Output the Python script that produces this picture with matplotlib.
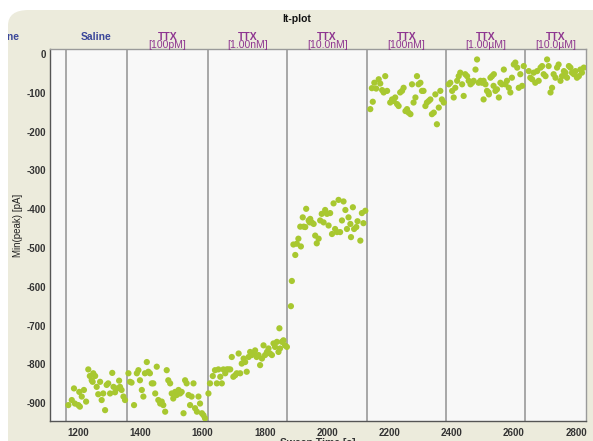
import matplotlib
matplotlib.use("Agg")
import matplotlib.pyplot as plt
from matplotlib.patches import FancyBboxPatch
from matplotlib.transforms import Bbox, TransformedBbox

plt.rcParams['font.family'] = ['Liberation Sans', 'DejaVu Sans']

# ---------------- data ----------------
saline_t = [1169, 1180, 1187, 1190, 1201, 1206, 1204, 1212, 1219, 1226, 1233, 1238, 1244, 1249,
            1255, 1247, 1260, 1265, 1271, 1276, 1281, 1287, 1292, 1297, 1303, 1310, 1314, 1319,
            1326, 1332, 1335, 1340, 1346, 1351]
saline_v = [-905, -892, -862, -901, -905, -909, -871, -883, -866, -896, -813, -830, -841, -823,
            -830, -845, -858, -877, -845, -892, -875, -918, -853, -849, -875, -822, -858, -872,
            -862, -842, -858, -866, -883, -892]

ttx100p_t = [1362, 1367, 1372, 1380, 1389, 1394, 1399, 1405, 1410, 1415, 1421, 1426, 1431, 1437,
             1442, 1448, 1453, 1458, 1464, 1469, 1474, 1480, 1485, 1490, 1496, 1501, 1506, 1512,
             1517, 1523, 1528, 1533, 1539, 1544, 1549, 1555, 1560, 1565, 1571, 1576, 1582, 1587,
             1592, 1598, 1603, 1608]
ttx100p_v = [-823, -845, -847, -905, -823, -815, -841, -866, -883, -823, -794, -819, -823, -849,
             -849, -875, -806, -892, -901, -896, -905, -922, -815, -841, -849, -875, -888, -871,
             -879, -866, -875, -871, -926, -841, -849, -879, -905, -883, -849, -913, -922, -883,
             -901, -926, -931, -939]

ttx1n_t = [1619, 1624, 1633, 1640, 1646, 1651, 1657, 1662, 1667, 1673, 1678, 1683, 1689, 1694,
           1699, 1705, 1710, 1716, 1721, 1726, 1732, 1737, 1742, 1748, 1753, 1758, 1764, 1769,
           1774, 1780, 1785, 1791, 1796, 1801, 1807, 1812, 1817, 1823, 1828, 1833, 1839, 1844,
           1849, 1855, 1860, 1865, 1871, 1847]
ttx1n_v = [-875, -849, -830, -815, -849, -813, -832, -849, -813, -823, -813, -813, -813, -781,
           -832, -828, -823, -772, -823, -798, -785, -794, -819, -781, -768, -776, -772, -764,
           -781, -776, -802, -785, -751, -776, -768, -759, -772, -776, -746, -755, -742, -768,
           -759, -742, -738, -751, -755, -707]

ttx10n_t = [1884, 1887, 1898, 1892, 1903, 1908, 1916, 1914, 1925, 1930, 1922, 1933, 1941, 1946,
            1951, 1957, 1944, 1962, 1967, 1973, 1978, 1983, 1989, 1994, 2000, 2005, 2010, 2016,
            2021, 2026, 2032, 2037, 2042, 2048, 2053, 2059, 2064, 2069, 2075, 2077, 2083, 2087,
            2094, 2098, 2107, 2112, 2117, 2123]
ttx10n_v = [-650, -585, -518, -491, -489, -476, -496, -445, -445, -446, -421, -399, -429, -425,
            -434, -438, -434, -468, -488, -476, -429, -412, -434, -402, -412, -442, -410, -464,
            -385, -451, -459, -376, -459, -429, -380, -402, -451, -421, -438, -472, -395, -451,
            -446, -431, -481, -410, -436, -404]

ttx100n_t = [2139, 2147, 2152, 2144, 2158, 2166, 2171, 2177, 2182, 2187, 2193, 2203, 2209, 2214,
             2219, 2225, 2230, 2235, 2241, 2246, 2252, 2257, 2262, 2268, 2273, 2278, 2284, 2289,
             2294, 2300, 2305, 2310, 2316, 2321, 2327, 2332, 2337, 2343, 2348, 2353, 2359, 2364,
             2369, 2375]
ttx100n_v = [-142, -123, -74, -88, -89, -65, -76, -93, -99, -57, -95, -125, -117, -121,
             -112, -129, -134, -99, -95, -87, -147, -142, -151, -155, -78, -125, -112, -57,
             -78, -74, -95, -95, -134, -125, -121, -117, -155, -151, -104, -181, -138, -95,
             -117, -125]

ttx1u_t = [2391, 2396, 2402, 2407, 2412, 2418, 2423, 2428, 2434, 2439, 2444, 2450, 2455, 2461,
           2466, 2471, 2477, 2482, 2487, 2493, 2498, 2503, 2509, 2514, 2519, 2525, 2530, 2535,
           2541, 2546, 2552, 2557, 2562, 2568, 2573, 2578, 2584, 2589, 2594, 2600, 2605, 2611,
           2616, 2621, 2627, 2632, 2503, 2520, 2536]
ttx1u_v = [-78, -74, -95, -112, -87, -69, -57, -48, -78, -108, -52, -57, -69, -78,
           -74, -69, -40, -14, -74, -69, -74, -69, -78, -95, -99, -61, -57, -82,
           -95, -91, -112, -74, -78, -40, -78, -69, -87, -99, -61, -27, -22, -35,
           -87, -52, -82, -31, -117, -104, -52]

ttx10u_t = [2648, 2653, 2659, 2664, 2669, 2675, 2680, 2686, 2691, 2696, 2702, 2707, 2712, 2718,
            2723, 2728, 2734, 2739, 2744, 2750, 2755, 2761, 2766, 2771, 2777, 2782, 2787, 2793,
            2798, 2803, 2809, 2814, 2819, 2825]
ttx10u_v = [-44, -61, -65, -48, -74, -44, -69, -35, -31, -52, -57, -14, -31, -99,
            -87, -52, -61, -35, -27, -69, -57, -44, -48, -61, -31, -35, -48, -52,
            -44, -61, -57, -40, -48, -35]

condition_lines = ["Baseline", "Saline", "TTX\n[100pM]", "TTX\n[1.00nM]", "TTX\n[10.0nM]",
                   "TTX\n[100nM]", "TTX\n[1.00\u00b5M]", "TTX\n[10.0\u00b5M]"]
segment_edges = [720, 1162, 1357, 1617, 1873, 2128, 2382, 2637, 2832]
x_ticks = [1200, 1400, 1600, 1800, 2000, 2200, 2400, 2600, 2800]
y_ticks = [0, -100, -200, -300, -400, -500, -600, -700, -800, -900]

# ---------------- figure ----------------
W, H = 593, 441
fig = plt.figure(figsize=(W / 100, H / 100), dpi=100, facecolor="white")

panel = FancyBboxPatch((8 / W, -0.05), 1.2, (H - 10) / H + 0.05,
                       boxstyle="round,pad=0,rounding_size=0.035",
                       transform=fig.transFigure, facecolor="#ECEBDC",
                       edgecolor="none", zorder=-5)
fig.patches.append(panel)
panel_clip = TransformedBbox(Bbox([[8 / W, 0], [1, (H - 10) / H]]), fig.transFigure)

L, R, T, B = 50, 586, 49, 421
ax = fig.add_axes([L / W, 1 - B / H, (R - L) / W, (B - T) / H])
ax.set_zorder(2)
ax.set_facecolor("#F8F8F8")

ax.set_xlim(1110, 2832)
ax.set_ylim(-946, 13)

for e in segment_edges[1:-1]:
    ax.axvline(e, color="#9A9A9A", lw=1.2, zorder=1)

dot = "#A8C830"
for t, v in [(saline_t, saline_v), (ttx100p_t, ttx100p_v), (ttx1n_t, ttx1n_v),
             (ttx10n_t, ttx10n_v), (ttx100n_t, ttx100n_v), (ttx1u_t, ttx1u_v),
             (ttx10u_t, ttx10u_v)]:
    ax.scatter(t, v, s=20, color=dot, edgecolors="none", zorder=3)

ax.set_xticks(x_ticks)
ax.set_yticks(y_ticks)
ax.set_xticklabels([str(x) for x in x_ticks])
ax.set_yticklabels([str(y) for y in y_ticks])
ax.tick_params(axis="both", length=0, labelsize=7, colors="#333333", pad=3)
for lab in ax.get_xticklabels() + ax.get_yticklabels():
    lab.set_fontweight("bold")
ax.tick_params(axis="x", pad=5)

for s in ["left", "bottom"]:
    ax.spines[s].set_color("#555555")
    ax.spines[s].set_linewidth(1.0)
for s in ["top", "right"]:
    ax.spines[s].set_color("#9A9A9A")
    ax.spines[s].set_linewidth(1.0)

# condition labels
for i, lab in enumerate(condition_lines):
    cx = (segment_edges[i] + segment_edges[i + 1]) / 2
    colr = "#3B479A" if "TTX" not in lab else "#8E3590"
    parts = lab.split("\n")
    if len(parts) == 1:
        a = ax.annotate(parts[0], xy=(cx, 1), xycoords=("data", "axes fraction"),
                        xytext=(0, (T - 37.5) * 0.72), textcoords="offset points",
                        ha="center", va="center", fontsize=7.5, color=colr,
                        fontweight="bold", annotation_clip=False)
        a.set_clip_on(True)
        a.set_clip_box(panel_clip)
    else:
        ax.annotate(parts[0], xy=(cx, 1), xycoords=("data", "axes fraction"),
                    xytext=(0, (T - 36.5) * 0.72), textcoords="offset points",
                    ha="center", va="center", fontsize=7.5, color=colr,
                    fontweight="bold", annotation_clip=False)
        ax.annotate(parts[1], xy=(cx, 1), xycoords=("data", "axes fraction"),
                    xytext=(0, (T - 45) * 0.72), textcoords="offset points",
                    ha="center", va="center", fontsize=7.5, color=colr,
                    annotation_clip=False)

fig.text(297 / W, 1 - 18.5 / H, "It-plot", ha="center", va="center",
         fontsize=7.5, fontweight="bold", color="#111111")
fig.text(18 / W, 1 - 225 / H, "Min(peak) [pA]", rotation=90, ha="center", va="center",
         fontsize=7, color="#222222")
fig.text(318 / W, 1 - 437.5 / H, "Sweep Time [s]", ha="center", va="top",
         fontsize=7.5, fontweight="bold", color="#333333")

fig.savefig("out.png", dpi=100, facecolor=fig.get_facecolor())
